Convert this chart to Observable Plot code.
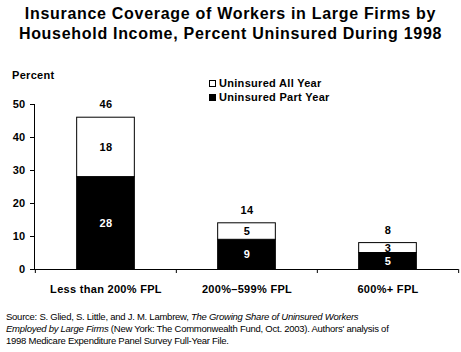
<!DOCTYPE html>
<html>
<head>
<meta charset="utf-8">
<script src="https://cdn.jsdelivr.net/npm/d3@7"></script>
<script src="https://cdn.jsdelivr.net/npm/@observablehq/plot@0.6"></script>
<style>
  body { margin: 0; background: #fff; font-family: "Liberation Sans", Arial, sans-serif; }
  #wrap { position: relative; width: 461px; height: 352px; overflow: hidden; }
  #title { position: absolute; top: 4px; left: 0; width: 461px; text-align: center; z-index: 2;
    font-weight: bold; font-size: 16px; line-height: 20px; letter-spacing: 0.7px; color: #000; }
  #ylab { position: absolute; left: 12px; top: 69px; font-weight: bold; font-size: 11px; z-index: 2; letter-spacing: 0.3px; }
  #legend { position: absolute; left: 209px; top: 76px; font-weight: bold; font-size: 11px; line-height: 14px; z-index: 2; letter-spacing: 0.3px; }
  #legend div { display: flex; align-items: center; }
  #legend span.sw { display: inline-block; width: 7px; height: 7px; border: 1px solid #000; box-sizing: border-box; margin-right: 3px; }
  #chart { position: absolute; left: 0; top: 60px; z-index: 1; }
  #source { position: absolute; left: 6px; top: 311px; font-size: 9.5px; line-height: 12px; letter-spacing: -0.25px; color: #000; z-index: 2; }
</style>
</head>
<body>
<div id="wrap">
  <div id="title">Insurance Coverage of Workers in Large Firms by<br>Household Income, Percent Uninsured During 1998</div>
  <div id="ylab">Percent</div>
  <div id="legend"></div>
  <div id="chart"></div>
  <div id="source">Source: S. Glied, S. Little, and J. M. Lambrew, <i>The Growing Share of Uninsured Workers<br>Employed by Large Firms</i> (New York: The Commonwealth Fund, Oct. 2003). Authors' analysis of<br>1998 Medicare Expenditure Panel Survey Full-Year File.</div>
</div>
<script>
const categories = ["Less than 200% FPL", "200%\u2013599% FPL", "600%+ FPL"];
const series = ["Uninsured Part Year", "Uninsured All Year"];
const partYear = [28, 9, 5];
const allYear = [18, 5, 3];
const totals = [46, 14, 8];
const yTicks = [0, 10, 20, 30, 40, 50];
const seriesFill = {"Uninsured Part Year": "#000", "Uninsured All Year": "#fff"};
const seriesText = {"Uninsured Part Year": "#fff", "Uninsured All Year": "#000"};

const rows = [];
categories.forEach((c, i) => {
  rows.push({category: c, series: series[0], value: partYear[i]});
  rows.push({category: c, series: series[1], value: allYear[i]});
});
const totalRows = categories.map((c, i) => ({category: c, total: totals[i]}));

// legend (HTML)
const legend = document.getElementById("legend");
[series[1], series[0]].forEach(s => {
  const d = document.createElement("div");
  d.innerHTML = `<span class="sw" style="background:${seriesFill[s]}"></span>${s}`;
  legend.appendChild(d);
});

const W = 461, H = 240, mL = 34, mR = 3, mT = 44, mB = 31;
const bw = (W - mL - mR) / categories.length;
const barW = 58;
const inset = (bw - barW) / 2;

const chart = Plot.plot({
  width: W, height: H,
  marginLeft: mL, marginRight: mR, marginTop: mT, marginBottom: mB,
  style: {fontFamily: "Liberation Sans, Arial, sans-serif", fontSize: "11px", fontWeight: "bold", color: "#000", background: "transparent", letterSpacing: "0.3px"},
  x: {domain: categories, padding: 0},
  y: {domain: [0, 50]},
  marks: [
    Plot.barY(rows, Plot.stackY({x: "category", y: "value", z: "series", order: series,
      fill: d => seriesFill[d.series], stroke: "#000", strokeWidth: 1,
      insetLeft: inset, insetRight: inset})),
    Plot.text(rows, Plot.stackY({x: "category", y: "value", z: "series", order: series,
      text: d => String(d.value), fill: d => seriesText[d.series]})),
    Plot.text(totalRows, {x: "category", y: "total", text: d => String(d.total), dy: -13, fill: "#000"}),
    Plot.frame({anchor: "left", stroke: "#000"}),
    Plot.ruleY([0], {stroke: "#000"}),
    Plot.axisY({ticks: yTicks, tickSize: 4, tickPadding: 5, label: null, tickFormat: d => String(d)}),
    Plot.axisX({tickSize: 0, tickPadding: 16, label: null}),
    Plot.axisX({tickSize: 4, dx: -bw / 2, tickFormat: () => "", label: null}),
    Plot.axisX(categories.slice(-1), {tickSize: 4, dx: bw / 2, tickFormat: () => "", label: null})
  ]
});
document.getElementById("chart").appendChild(chart);
</script>
</body>
</html>
